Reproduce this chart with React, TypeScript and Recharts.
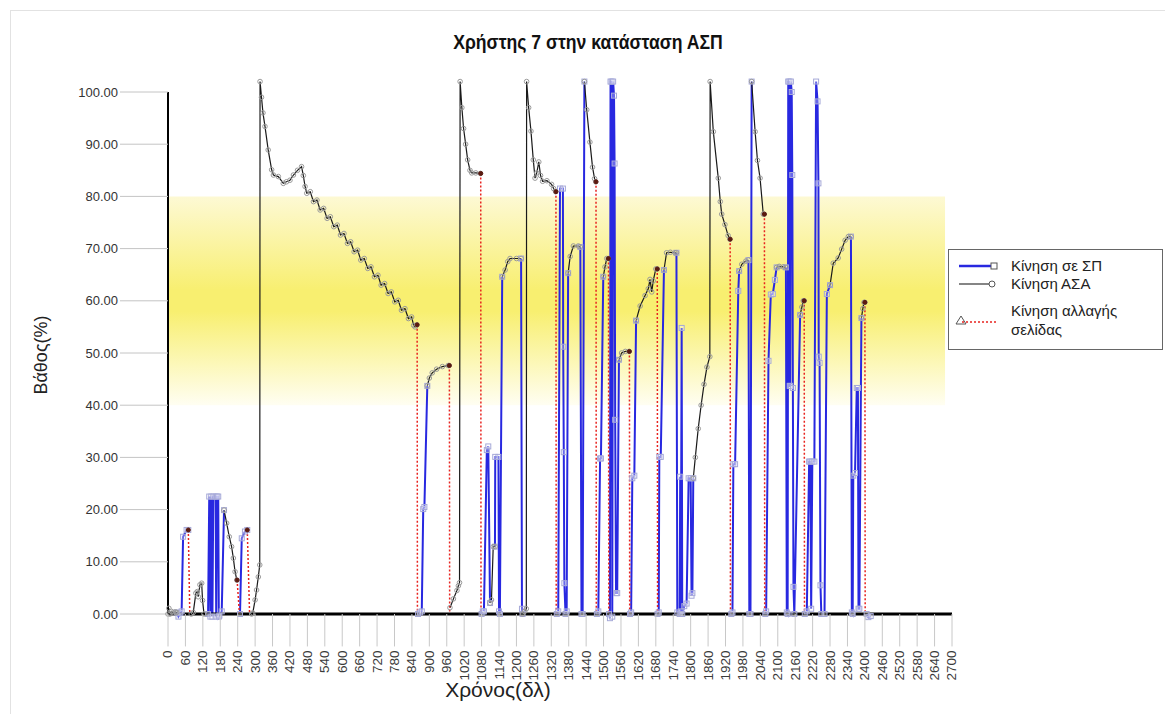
import React from 'react';
import { LineChart, Line, XAxis, YAxis, ReferenceArea, ReferenceLine, Legend } from 'recharts';

// Κίνηση σε ΣΠ (μπλε) — κάθε τμήμα: [χρόνος, βάθος]
const spSegments: [number, number][][] = [
  [[30, 0.3], [36, -0.5], [42, 0.2], [47, 0.5], [52, 14.8], [64, 16.1], [70, 16.1]],
  [[138, 0], [142, 22.5], [146, -0.5], [149, 22.5], [153, -0.5], [156, 22.5], [164, 22.5], [166, -0.5], [169, 22.5], [173, 22.5], [175, -0.5], [177, -0.3], [185, 0.5], [193, 19.9]],
  [[248, 0], [254, 14.5], [265, 15.8], [273, 16.1]],
  [[861, 0], [868, 0.3], [874, 0.5], [879, 20.1], [883, 20.5], [893, 43.7]],
  [[1080, 0], [1084, 0.5], [1088, 0.5], [1098, 31.4], [1103, 32.1], [1109, 2.1]],
  [[1126, 12.9], [1127, 30.1], [1138, 30.1], [1140, 0.5], [1143, 0], [1151, 64.6]],
  [[1216, 68.1], [1219, 1], [1221, 0]],
  [[1339, 0], [1344, 0.5], [1350, 81.5], [1360, 81.5], [1361, 51.2], [1363, 31], [1365, 5.9], [1369, 0], [1373, 0.5], [1378, 65.3]],
  [[1420, 70.3], [1424, 0], [1428, 0], [1434, 102]],
  [[1477, 0], [1482, 0.5], [1488, 29.8], [1491, 29.8], [1499, 64.6]],
  [[1519, 0], [1522, -0.8], [1524, 102], [1528, 102], [1530, -0.5], [1533, 102], [1536, 99.3], [1538, 86.3], [1540, 37.2], [1543, 4], [1547, 4], [1553, 48.7]],
  [[1591, 0], [1595, 0.3], [1599, 26], [1606, 26.5], [1612, 56.2]],
  [[1686, 0], [1690, 0.3], [1692, 30.1], [1697, 30.1], [1708, 65.9]],
  [[1751, 69.2], [1754, 0.3], [1762, 0], [1764, 26.3], [1766, 0.5], [1769, 54.8], [1771, 0], [1778, 1.5], [1786, 2], [1793, 26], [1800, 26], [1803, 3.5], [1806, 4], [1809, 26]],
  [[1940, 0], [1944, 0.3], [1947, 28.7], [1953, 28.7], [1964, 61.9], [1967, 65.7]],
  [[1999, 67.8], [2002, 0], [2006, 0], [2010, 102]],
  [[2057, 0], [2060, 0.5], [2068, 48.5], [2076, 61.2], [2083, 61.3], [2090, 64], [2096, 66.4]],
  [[2128, 66.4], [2131, 0.3], [2134, 0], [2136, 102], [2140, 102], [2141, 43.7], [2143, 43.7], [2145, 102], [2148, 100], [2150, 84.1], [2152, 43.3], [2154, 5.2], [2157, 0], [2177, 57.3]],
  [[2193, 0], [2200, 0.5], [2208, 29.2], [2212, 29.2], [2215, 1], [2219, 29.2], [2226, 29.2], [2232, 102], [2237, 98.2], [2240, 82.5], [2241, 49.3], [2244, 48.1], [2247, 5.5], [2250, 0], [2261, 0], [2269, 61.3], [2280, 63]],
  [[2352, 72.3], [2355, 0.3], [2358, 0], [2360, 26.5], [2366, 27], [2372, 43.3], [2376, 43.3], [2378, 1], [2381, 1], [2388, 56.7]],
  [[2406, 0], [2412, -0.6], [2420, -0.4]],
];

// Κίνηση ΑΣΑ (μαύρο)
const asaSegments: [number, number][][] = [
  [[0, 0], [3, 1.1], [7, 0], [12, 0.5], [18, 0.2], [25, 0.4], [30, 0.3]],
  [[80, 0], [87, 0.3], [96, 4], [101, 4.3], [104, 3.3], [110, 5.6], [116, 5.9], [119, 2.6], [124, 0]],
  [[193, 19.9], [202, 17.4], [211, 14.8], [219, 12.9], [225, 10.7], [231, 8.1], [237, 6.5]],
  [[288, 0], [292, 0.2], [300, 2.7], [305, 4.6], [311, 7.1], [316, 9.4], [317, 102], [322, 99], [327, 96], [334, 93.4], [345, 88.9], [357, 85.1], [363, 84.1], [380, 83.8], [397, 82.5], [408, 82.8], [420, 83.1], [432, 84.1], [446, 85], [460, 85.7], [466, 84], [472, 81.9], [478, 80.6], [490, 80.9], [501, 79.0], [513, 79.3], [524, 77.4], [536, 77.7], [548, 75.8], [559, 76.1], [571, 74.2], [583, 74.5], [594, 72.6], [606, 72.9], [618, 71.0], [629, 71.3], [641, 69.4], [653, 69.7], [664, 67.8], [676, 68.1], [688, 66.2], [699, 66.5], [711, 64.6], [723, 64.9], [734, 63.0], [746, 63.3], [758, 61.4], [769, 61.7], [781, 59.8], [793, 60.1], [804, 58.2], [816, 58.5], [828, 56.6], [839, 56.9], [846, 55.3], [851, 55.0], [857, 55.4]],
  [[893, 43.7], [900, 45.2], [910, 46.2], [925, 46.9], [945, 47.4], [965, 47.6], [968, 47.6]],
  [[971, 1.2], [983, 2.9], [995, 4.5], [1000, 5.4], [1004, 6], [1006, 102], [1012, 97], [1018, 93], [1025, 90], [1032, 87], [1040, 85], [1046, 84.5], [1060, 84.5], [1076, 84.4]],
  [[1109, 2.1], [1114, 2.7], [1120, 12.9], [1126, 12.9]],
  [[1151, 64.6], [1161, 65.9], [1170, 67.5], [1178, 68.1], [1200, 68.1], [1216, 68.1]],
  [[1221, 0], [1228, 0.5], [1234, 1], [1235, 102], [1242, 97], [1250, 92.5], [1258, 87], [1264, 83.5], [1270, 84.5], [1277, 86.6], [1283, 84], [1290, 82.9], [1305, 83], [1321, 82.3], [1328, 81.5], [1335, 80.9]],
  [[1378, 65.3], [1385, 68.5], [1396, 70.5], [1413, 70.5], [1420, 70.3]],
  [[1434, 102], [1442, 96.6], [1453, 90.4], [1462, 85.6], [1469, 83.4], [1473, 82.8]],
  [[1499, 64.6], [1505, 66.5], [1511, 68.1], [1516, 68.1]],
  [[1553, 48.7], [1562, 50], [1575, 50.3], [1588, 50.3]],
  [[1612, 56.2], [1626, 59], [1643, 61], [1654, 62.3], [1660, 64.1], [1666, 61.7], [1671, 63.8], [1680, 66.1], [1685, 66.1]],
  [[1708, 65.9], [1717, 69.2], [1730, 69.3], [1746, 69.2], [1751, 69.2]],
  [[1809, 26], [1816, 30], [1826, 35.5], [1836, 40], [1846, 44], [1856, 47.3], [1866, 49.3], [1867, 102], [1878, 92.4], [1895, 83.5], [1902, 79], [1907, 76.6], [1918, 74.6], [1929, 72.5], [1935, 71.8]],
  [[1967, 65.7], [1976, 67], [1990, 67.6], [1999, 67.8]],
  [[2010, 102], [2022, 92.4], [2030, 86.9], [2039, 83.5], [2050, 76.6], [2053, 76.6]],
  [[2096, 66.4], [2105, 66.6], [2119, 66.5], [2128, 66.4]],
  [[2177, 57.3], [2183, 58.8], [2188, 60], [2191, 60]],
  [[2280, 63], [2291, 67.2], [2308, 68.2], [2320, 69.9], [2332, 71.6], [2343, 72.3], [2352, 72.3]],
  [[2388, 56.7], [2393, 58.5], [2397, 59.7], [2400, 59.7]],
];

// Κίνηση αλλαγής σελίδας (κόκκινο διακεκομμένο)
const pageSegments: [number, number][][] = [
  [[70, 16.1], [75, 0]],
  [[238, 6.5], [246, 0]],
  [[273, 16.1], [281, 0]],
  [[858, 55.4], [859, 0]],
  [[969, 47.6], [970, 0]],
  [[1077, 84.4], [1078, 0]],
  [[1336, 80.9], [1337, 0]],
  [[1474, 82.8], [1475, 0]],
  [[1517, 68.1], [1518, 0]],
  [[1589, 50.3], [1590, 0]],
  [[1685, 66.1], [1686, 0]],
  [[1936, 71.8], [1937, 0]],
  [[2054, 76.6], [2055, 0]],
  [[2191, 60], [2192, 0]],
  [[2400, 59.7], [2401, 0]],
];

const xTicks = [0, 60, 120, 180, 240, 300, 360, 420, 480, 540, 600, 660, 720, 780, 840, 900, 960, 1020, 1080, 1140, 1200, 1260, 1320, 1380, 1440, 1500, 1560, 1620, 1680, 1740, 1800, 1860, 1920, 1980, 2040, 2100, 2160, 2220, 2280, 2340, 2400, 2460, 2520, 2580, 2640, 2700];
const yTicks = [0, 10, 20, 30, 40, 50, 60, 70, 80, 90, 100];
const seriesNames = ['Κίνηση σε ΣΠ', 'Κίνηση ΑΣΑ', 'Κίνηση αλλαγής σελίδας'];

// τμήματα -> σειρά με κενά (null) ανάμεσα
const toSeries = (segs: [number, number][][]) => {
  const out: { t: number; v: number | null }[] = [];
  segs.forEach((seg, i) => {
    if (i > 0) out.push({ t: seg[0][0], v: null });
    seg.forEach(([t, v]) => out.push({ t, v }));
  });
  return out;
};

const spData = toSeries(spSegments);
const asaData = toSeries(asaSegments);
const pageData = toSeries(pageSegments);

const FONT = "'Liberation Sans', Arial, sans-serif";
const ZERO_OFFSET = 10.44; // 2 μονάδες κάτω από το 0

const SquareDot = (p: any) => {
  const { cx, cy, index, payload } = p;
  if (cx == null || cy == null || payload?.v == null) return <g key={`s${index}`} />;
  return <rect key={`s${index}`} x={cx - 2.5} y={cy - 2.5} width={5} height={5} fill="#fff" fillOpacity={0.3} stroke="#a6a9d8" strokeWidth={1} />;
};

const CircleDot = (p: any) => {
  const { cx, cy, index, payload } = p;
  if (cx == null || cy == null || payload?.v == null) return <g key={`c${index}`} />;
  return <circle key={`c${index}`} cx={cx} cy={cy} r={2.3} fill="none" stroke="#9a9a9a" strokeWidth={1} />;
};

const TriDot = (p: any) => {
  const { cx, cy, index, payload } = p;
  if (cx == null || cy == null || payload?.v == null || payload.v === 0) return <g key={`r${index}`} />;
  return <circle key={`r${index}`} cx={cx} cy={cy} r={2} fill="#5a1a10" stroke="#5a1a10" />;
};

const XTick = (props: any) => {
  const { x, y, payload } = props;
  const ty = y + 26;
  return (
    <g>
      <line x1={x} x2={x} y1={y - ZERO_OFFSET} y2={y + 22} stroke="#c8c8c8" strokeWidth={1} />
      <text x={x} y={ty} transform={`rotate(-90 ${x} ${ty})`} textAnchor="end" dominantBaseline="central" fontSize={13.5} fill="#3a3a3a" fontFamily={FONT}>
        {payload.value}
      </text>
    </g>
  );
};

const LegendBox = () => (
  <div style={{ position: 'relative', width: 215, height: 101, boxSizing: 'border-box', border: '1px solid #666', background: '#fff', fontFamily: FONT, fontSize: 15, color: '#222' }}>
    <svg width={60} height={101} style={{ position: 'absolute', left: 0, top: 0 }}>
      <line x1={10} x2={42} y1={16} y2={16} stroke="#2828e0" strokeWidth={2.5} />
      <rect x={42} y={13} width={6} height={6} fill="#fff" stroke="#555" />
      <line x1={10} x2={40} y1={34} y2={34} stroke="#333" strokeWidth={1.2} />
      <circle cx={43} cy={34} r={3} fill="#fff" stroke="#555" />
      <polygon points="7,74 12,66 17,74" fill="#fff" stroke="#555" />
      <line x1={13} x2={49} y1={72} y2={72} stroke="#e8231f" strokeWidth={1.6} strokeDasharray="2 2" />
    </svg>
    <div style={{ position: 'absolute', left: 62, top: 7, lineHeight: '18px' }}>{seriesNames[0]}</div>
    <div style={{ position: 'absolute', left: 62, top: 25, lineHeight: '18px' }}>{seriesNames[1]}</div>
    <div style={{ position: 'absolute', left: 62, top: 51, lineHeight: '19px' }}>
      Κίνηση αλλαγής
      <br />
      σελίδας
    </div>
  </div>
);

export default function App() {
  return (
    <div style={{ position: 'relative', width: 1160, height: 703, marginLeft: 2, marginTop: 2, borderTop: '1px solid #e2e2e2', borderLeft: '1px solid #e2e2e2', fontFamily: FONT }}>
      <div style={{ position: 'absolute', left: 577, top: 31, transform: 'translate(-50%, -50%) scaleX(0.88)', fontWeight: 'bold', fontSize: 20, color: '#111', whiteSpace: 'nowrap' }}>
        Χρήστης 7 στην κατάσταση ΑΣΠ
      </div>
      <div style={{ position: 'absolute', left: 30, top: 344, transform: 'translate(-50%, -50%) rotate(-90deg)', fontSize: 18, color: '#222', whiteSpace: 'nowrap' }}>
        Βάθος(%)
      </div>
      <div style={{ position: 'absolute', left: 487, top: 679, transform: 'translate(-50%, -50%)', fontSize: 21, color: '#222', whiteSpace: 'nowrap' }}>
        Χρόνος(δλ)
      </div>
      <LineChart width={1160} height={703} margin={{ top: 60.12, right: 219, bottom: 29.56, left: 57 }}>
        <defs>
          <linearGradient id="band" x1="0" y1="0" x2="0" y2="1">
            <stop offset="0%" stopColor="#fdf9d4" />
            <stop offset="45%" stopColor="#f8ef70" />
            <stop offset="55%" stopColor="#f8ef70" />
            <stop offset="100%" stopColor="#fffef2" />
          </linearGradient>
        </defs>
        <XAxis dataKey="t" type="number" domain={[0, 2700]} ticks={xTicks} interval={0} tick={<XTick />} tickLine={false} tickSize={0} tickMargin={0} axisLine={false} height={60} allowDuplicatedCategory={false} />
        <YAxis type="number" domain={[-2, 104]} ticks={yTicks} interval={0} width={100} tickFormatter={(v: number) => v.toFixed(2)} tickSize={48} tickMargin={2} tickLine={{ stroke: '#c4c4c4' }} axisLine={false} tick={{ fontSize: 13, fill: '#333', fontFamily: FONT }} />
        <ReferenceArea x1={0} x2={2676} y1={40} y2={80} fill="url(#band)" fillOpacity={1} stroke="none" />
        <Line data={spData} dataKey="v" name={seriesNames[0]} type="linear" stroke="#2828e0" strokeWidth={2} dot={SquareDot} activeDot={false} connectNulls={false} isAnimationActive={false} />
        <Line data={asaData} dataKey="v" name={seriesNames[1]} type="linear" stroke="#1a1a1a" strokeWidth={1.2} dot={CircleDot} activeDot={false} connectNulls={false} isAnimationActive={false} />
        <Line data={pageData} dataKey="v" name={seriesNames[2]} type="linear" stroke="#e8231f" strokeWidth={1.5} strokeDasharray="2 2" dot={TriDot} activeDot={false} connectNulls={false} isAnimationActive={false} />
        <ReferenceLine segment={[{ x: 0, y: 0 }, { x: 0, y: 100 }]} stroke="#000" strokeWidth={2} />
        <ReferenceLine y={0} stroke="#000" strokeWidth={3} />
        <Legend content={() => <LegendBox />} layout="vertical" align="center" verticalAlign="middle" wrapperStyle={{ left: 937, top: 238, width: 215, height: 101 }} />
      </LineChart>
    </div>
  );
}
